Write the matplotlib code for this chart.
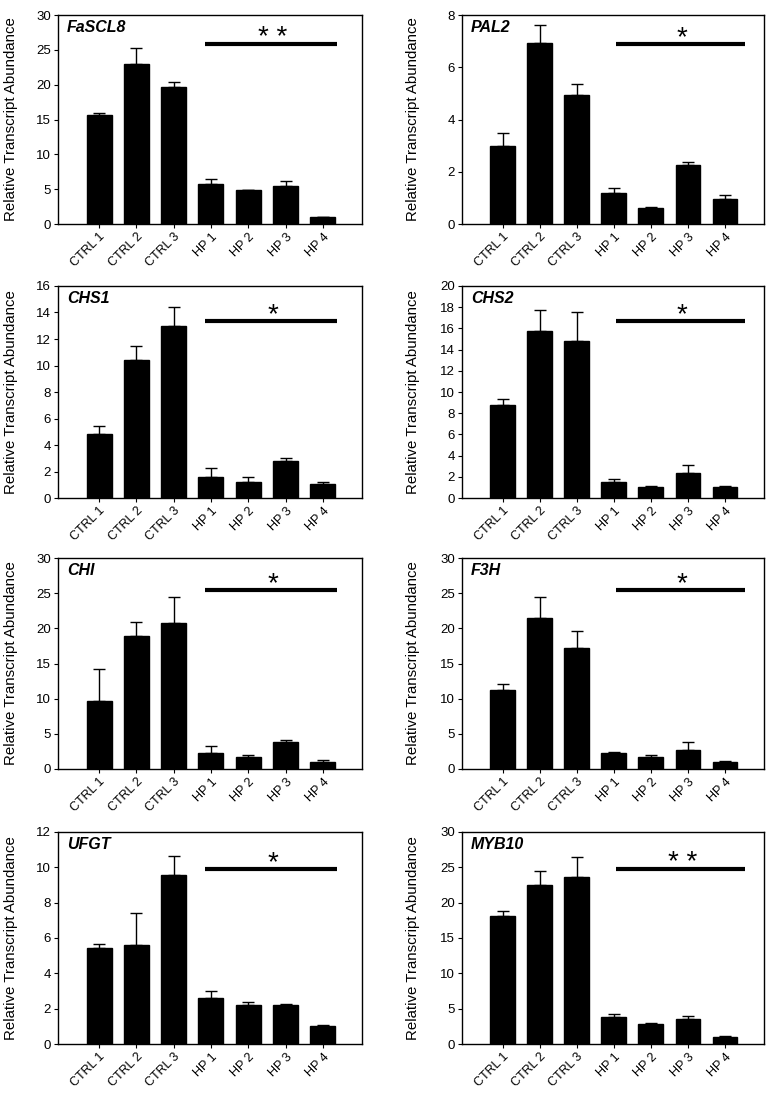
import matplotlib
matplotlib.use('Agg')
import matplotlib.pyplot as plt
import numpy as np

plt.rcParams['font.family'] = ['Liberation Sans', 'DejaVu Sans']

samples = ['CTRL 1', 'CTRL 2', 'CTRL 3', 'HP 1', 'HP 2', 'HP 3', 'HP 4']

genes = ['FaSCL8', 'PAL2', 'CHS1', 'CHS2', 'CHI', 'F3H', 'UFGT', 'MYB10']

fascl8 = [15.7, 23.0, 19.6, 5.8, 4.9, 5.4, 1.0]
fascl8_err = [0.3, 2.2, 0.8, 0.6, 0.05, 0.75, 0.05]
pal2 = [3.0, 6.94, 4.95, 1.17, 0.6, 2.25, 0.97]
pal2_err = [0.48, 0.68, 0.42, 0.2, 0.06, 0.13, 0.13]
chs1 = [4.8, 10.4, 13.0, 1.6, 1.2, 2.8, 1.08]
chs1_err = [0.65, 1.1, 1.45, 0.65, 0.4, 0.22, 0.1]
chs2 = [8.75, 15.8, 14.8, 1.54, 1.0, 2.4, 1.0]
chs2_err = [0.6, 1.95, 2.75, 0.3, 0.15, 0.7, 0.15]
chi = [9.6, 18.9, 20.7, 2.3, 1.75, 3.8, 1.0]
chi_err = [4.55, 2.0, 3.8, 1.0, 0.25, 0.3, 0.28]
f3h = [11.2, 21.5, 17.2, 2.23, 1.75, 2.75, 1.0]
f3h_err = [0.85, 3.0, 2.45, 0.23, 0.3, 1.05, 0.2]
ufgt = [5.45, 5.6, 9.55, 2.6, 2.2, 2.2, 1.0]
ufgt_err = [0.2, 1.8, 1.1, 0.4, 0.2, 0.08, 0.1]
myb10 = [18.1, 22.45, 23.65, 3.8, 2.8, 3.55, 1.0]
myb10_err = [0.7, 2.0, 2.8, 0.47, 0.2, 0.48, 0.2]

values = [fascl8, pal2, chs1, chs2, chi, f3h, ufgt, myb10]
errors = [fascl8_err, pal2_err, chs1_err, chs2_err, chi_err, f3h_err, ufgt_err, myb10_err]

y_max = [30, 8, 16, 20, 30, 30, 12, 30]
y_step = [5, 2, 2, 2, 5, 5, 2, 5]
sig_marks = ['* *', '*', '*', '*', '*', '*', '*', '* *']
sig_level = [25.8, 6.88, 13.35, 16.7, 25.4, 25.4, 9.89, 24.8]

# layout (figure fractions)
col_left = [0.0755, 0.6016]
col_width = [0.396, 0.393]
row_bottom = [0.7958, 0.546, 0.299, 0.0483]
row_height = [0.1905, 0.1933, 0.1923, 0.1933]
line_span = [(2.85, 6.37), (3.05, 6.55)]
label_x = [-0.13, -0.139]

fig = plt.figure(figsize=(7.68, 10.97), dpi=100)
x = np.arange(len(samples))

for i, gene in enumerate(genes):
    r, c = divmod(i, 2)
    ax = fig.add_axes([col_left[c], row_bottom[r], col_width[c], row_height[r]])
    ax.bar(x, values[i], width=0.67, color='black', edgecolor='black', zorder=2)
    ax.errorbar(x, values[i], yerr=[np.zeros(len(x)), errors[i]], fmt='none',
                ecolor='black', elinewidth=1, capsize=4, capthick=1, zorder=3)
    ax.set_xlim(-1.1, 7.05)
    ax.set_ylim(0, y_max[i])
    ax.set_yticks(np.arange(0, y_max[i] + 0.1, y_step[i]))
    ax.set_xticks(x)
    ax.set_xticklabels(samples, rotation=45, ha='right', rotation_mode='anchor', fontsize=9)
    ax.tick_params(axis='y', labelsize=9.5, length=3, direction='out', pad=2)
    ax.tick_params(axis='x', length=3, direction='out', pad=2)
    for s in ax.spines.values():
        s.set_linewidth(1)
    ax.set_ylabel('Relative Transcript Abundance', fontsize=10.8)
    ax.yaxis.set_label_coords(label_x[c], 0.5)
    ax.text(0.03, 0.975, gene, transform=ax.transAxes, fontsize=11.5,
            fontweight='bold', fontstyle='italic', ha='left', va='top')
    x0, x1 = line_span[c]
    ax.plot([x0, x1], [sig_level[i], sig_level[i]], color='black', lw=3, solid_capstyle='butt')
    ax.annotate(sig_marks[i], xy=((x0 + x1) / 2 + 0.05, sig_level[i]), xytext=(0, -5),
                textcoords='offset points', ha='center', va='bottom', fontsize=20)

fig.savefig('out.png', dpi=100)
